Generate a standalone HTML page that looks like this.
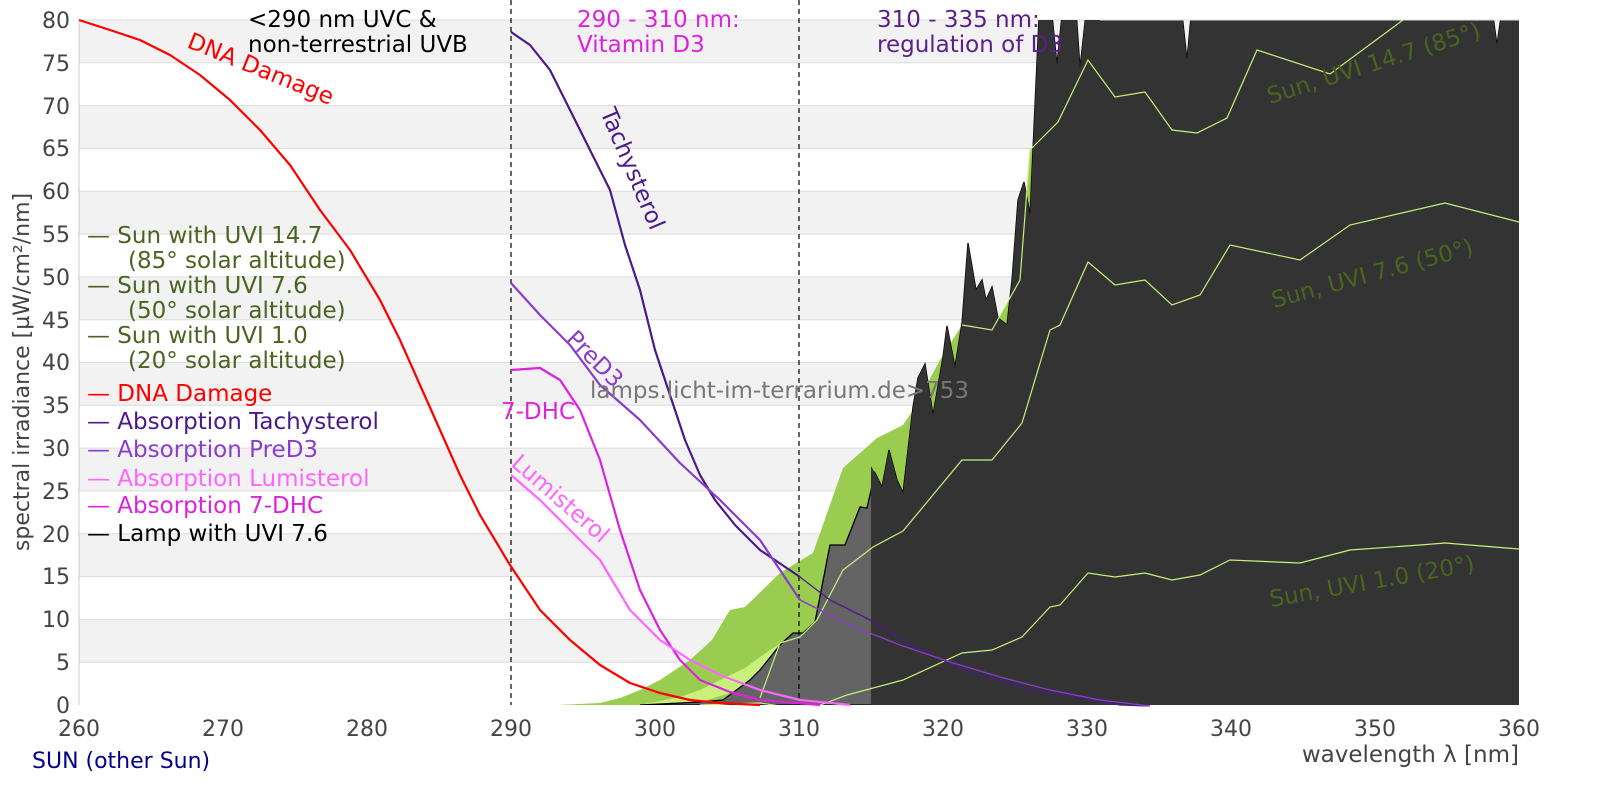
<!DOCTYPE html>
<html><head><meta charset="utf-8"><style>
body{margin:0;background:#fff;overflow:hidden;}
svg{display:block;font-family:"DejaVu Sans","Liberation Sans",sans-serif;}
</style></head><body>
<svg width="1600" height="800" viewBox="0 0 1600 800" xmlns="http://www.w3.org/2000/svg">
<rect width="1600" height="800" fill="#fff"/>
<g fill="#f2f2f2">
<rect x="79" y="20" width="1440" height="42.8"/>
<rect x="79" y="105.6" width="1440" height="42.8"/>
<rect x="79" y="191.3" width="1440" height="42.8"/>
<rect x="79" y="276.9" width="1440" height="42.8"/>
<rect x="79" y="362.5" width="1440" height="42.8"/>
<rect x="79" y="448.1" width="1440" height="42.8"/>
<rect x="79" y="533.8" width="1440" height="42.8"/>
<rect x="79" y="619.4" width="1440" height="42.8"/>
</g>
<g stroke="#dcdcdc" stroke-width="1">
<line x1="79" x2="1519" y1="20" y2="20"/><line x1="79" x2="1519" y1="62.8" y2="62.8"/><line x1="79" x2="1519" y1="105.6" y2="105.6"/><line x1="79" x2="1519" y1="148.4" y2="148.4"/><line x1="79" x2="1519" y1="191.3" y2="191.3"/><line x1="79" x2="1519" y1="234.1" y2="234.1"/><line x1="79" x2="1519" y1="276.9" y2="276.9"/><line x1="79" x2="1519" y1="319.7" y2="319.7"/><line x1="79" x2="1519" y1="362.5" y2="362.5"/><line x1="79" x2="1519" y1="405.3" y2="405.3"/><line x1="79" x2="1519" y1="448.1" y2="448.1"/><line x1="79" x2="1519" y1="490.9" y2="490.9"/><line x1="79" x2="1519" y1="533.8" y2="533.8"/><line x1="79" x2="1519" y1="576.6" y2="576.6"/><line x1="79" x2="1519" y1="619.4" y2="619.4"/><line x1="79" x2="1519" y1="662.2" y2="662.2"/>
</g>
<line x1="79" y1="20" x2="79" y2="705" stroke="#ccc"/>
<polygon fill="#99cc4f" points="558,705 600,703 620,698 640,690 660,680 690,660 712,640 730,610 745,607 780,573 813,553 843,468 877,438 903,425 913,410 940,360 962,325 992,330 1020,280 1030,150 1060,120 1088,60 1100,60 1100,705"/>
<polygon fill="#c8f07a" points="640,705 680,697 700,690 720,680 745,668 770,650 790,637 800,633 780,650 760,670 740,690 700,702"/>
<clipPath id="c"><rect x="79" y="20" width="1440" height="685"/></clipPath>
<g clip-path="url(#c)">
<polygon fill="#646464" stroke="#000" stroke-width="1.3" points="640,705 700,702 723,700 750,680 760,670 780,645 793,633 803,633 815,622 830,545 845,545 860,507 867,508 875,473 882,487 889,450 897,480 903,493 913,407 918,378 925,364 933,415 943,357 947,326 955,367 962,323 968,243 976,290 982,280 986,300 992,287 998,318 1007,325 1012,280 1018,200 1024,182 1030,215 1040,-5 1050,-5 1057,65 1064,-5 1075,-5 1080,68 1088,-5 1180,-5 1187,60 1193,-5 1290,-5 1297,10 1304,-5 1490,-5 1497,45 1504,-5 1519,-5 1519,705"/>
<polygon fill="#333" points="871,705 871,466 875,473 882,487 889,450 897,480 903,493 913,407 918,378 925,364 933,415 943,357 947,326 955,367 962,323 968,243 976,290 982,280 986,300 992,287 998,318 1007,325 1012,280 1018,200 1024,182 1030,215 1040,-5 1050,-5 1057,65 1064,-5 1075,-5 1080,68 1088,-5 1180,-5 1187,60 1193,-5 1290,-5 1297,10 1304,-5 1490,-5 1497,45 1504,-5 1519,-5 1519,705"/>
</g>
<line x1="1100" y1="20" x2="1519" y2="20" stroke="#ddd"/>
<g fill="none" stroke="#c8f07a" stroke-width="1.2" clip-path="url(#c)">
<polyline points="962,325 992,330 1020,280 1030,150 1058,122 1088,60 1115,97 1145,92 1172,130 1197,133 1227,118 1257,50 1330,74 1403,20 1450,0"/>
<polyline points="760,698 780,643 800,637 817,620 843,570 873,547 903,531 962,460 992,460 1022,423 1050,330 1060,325 1088,262 1115,285 1145,280 1172,305 1200,295 1230,245 1300,260 1350,225 1445,203 1519,222"/>
<polyline points="700,705 760,703 807,710 847,695 903,680 962,653 992,650 1022,637 1050,607 1060,605 1088,573 1115,577 1145,573 1172,580 1200,575 1230,560 1300,563 1350,550 1420,545 1445,543 1519,549"/>
</g>
<g stroke="#000" stroke-dasharray="5,4" stroke-width="1.2">
<line x1="511" y1="0" x2="511" y2="705"/><line x1="799" y1="0" x2="799" y2="705"/>
</g>
<g fill="none" stroke-width="2.2" stroke-linejoin="round">
<polyline stroke="#ff0000" points="79,20 110,30 140,40 170,55 200,75 230,100 260,130 290,165 320,210 350,250 380,300 400,340 420,385 440,430 460,475 480,515 510,565 540,610 570,640 600,665 630,683 660,693 690,700 720,703 760,705"/>
<polyline stroke="#4b1a8a" points="511,32 530,45 550,70 570,110 590,150 610,190 625,245 640,290 655,350 670,395 685,440 700,475 715,500 735,525 760,550 800,577"/>
<polyline stroke="#8a3ccc" points="511,283 540,315 570,345 600,385 640,420 680,463 720,500 760,540 800,600"/>
<polyline stroke="#dd22dd" points="511,370 540,368 560,380 580,410 600,460 620,530 640,590 660,630 680,660 700,680 730,692 760,700 820,705"/>
<polyline stroke="#ff66ff" points="511,475 540,500 570,530 600,560 630,610 660,640 690,660 720,675 760,690 800,700 850,705"/>
</g>
<g fill="none" stroke-width="1.3">
<polyline stroke="#4b1a8a" points="800,577 830,600 870,620 920,650 970,672 1030,690 1080,697 1120,705 1150,706"/>
<polyline stroke="#8a3ccc" points="800,600 850,625 900,645 950,662 1000,677 1050,690 1100,700 1150,706"/>
</g>
<g font-size="22" fill="#444" text-anchor="end">
<text x="70" y="28">80</text><text x="70" y="71">75</text><text x="70" y="114">70</text><text x="70" y="156">65</text><text x="70" y="199">60</text><text x="70" y="242">55</text><text x="70" y="285">50</text><text x="70" y="328">45</text><text x="70" y="370">40</text><text x="70" y="413">35</text><text x="70" y="456">30</text><text x="70" y="499">25</text><text x="70" y="542">20</text><text x="70" y="584">15</text><text x="70" y="627">10</text><text x="70" y="670">5</text><text x="70" y="713">0</text>
</g>
<g font-size="22" fill="#444" text-anchor="middle">
<text x="79" y="736">260</text><text x="223" y="736">270</text><text x="367" y="736">280</text><text x="511" y="736">290</text><text x="655" y="736">300</text><text x="799" y="736">310</text><text x="943" y="736">320</text><text x="1087" y="736">330</text><text x="1231" y="736">340</text><text x="1375" y="736">350</text><text x="1519" y="736">360</text>
</g>
<text x="1519" y="762" font-size="23" fill="#444" text-anchor="end">wavelength λ [nm]</text>
<text transform="translate(29,372) rotate(-90)" font-size="22" fill="#444" text-anchor="middle">spectral irradiance [µW/cm²/nm]</text>
<text x="32" y="768" font-size="22" fill="#00008b">SUN (other Sun)</text>
<g font-size="23">
<text x="248" y="27" fill="#000">&lt;290 nm UVC &amp;</text>
<text x="248" y="52" fill="#000">non-terrestrial UVB</text>
<text x="577" y="27" fill="#dd22dd">290 - 310 nm:</text>
<text x="577" y="52" fill="#dd22dd">Vitamin D3</text>
<text x="877" y="27" fill="#5b1f8a">310 - 335 nm:</text>
<text x="877" y="52" fill="#5b1f8a">regulation of D3</text>
<text transform="translate(186,47) rotate(22)" fill="#ff0000">DNA Damage</text>
<text transform="translate(600,112) rotate(67)" fill="#4b1a8a">Tachysterol</text>
<text transform="translate(565,340) rotate(45)" fill="#8a3ccc">PreD3</text>
<text x="501" y="419" fill="#dd22dd">7-DHC</text>
<text transform="translate(510,465) rotate(41)" fill="#ff66ff">Lumisterol</text>
<text x="590" y="398" fill="#777">lamps.licht-im-terrarium.de&gt;753</text>
<text transform="translate(1270,104) rotate(-17.5)" fill="#4a6420">Sun, UVI 14.7 (85°)</text>
<text transform="translate(1274,308) rotate(-15)" fill="#4a6420">Sun, UVI 7.6 (50°)</text>
<text transform="translate(1271,607) rotate(-10)" fill="#4a6420">Sun, UVI 1.0 (20°)</text>
</g>
<g font-size="23">
<text x="87" y="243" fill="#4a6420">— Sun with UVI 14.7</text>
<text x="128" y="268" fill="#4a6420">(85° solar altitude)</text>
<text x="87" y="293" fill="#4a6420">— Sun with UVI 7.6</text>
<text x="128" y="318" fill="#4a6420">(50° solar altitude)</text>
<text x="87" y="343" fill="#4a6420">— Sun with UVI 1.0</text>
<text x="128" y="368" fill="#4a6420">(20° solar altitude)</text>
<text x="87" y="401" fill="#ff0000">— DNA Damage</text>
<text x="87" y="429" fill="#4b1a8a">— Absorption Tachysterol</text>
<text x="87" y="457" fill="#8a3ccc">— Absorption PreD3</text>
<text x="87" y="486" fill="#ff66ff">— Absorption Lumisterol</text>
<text x="87" y="513" fill="#dd22dd">— Absorption 7-DHC</text>
<text x="87" y="541" fill="#000">— Lamp with UVI 7.6</text>
</g>
</svg>
</body></html>
